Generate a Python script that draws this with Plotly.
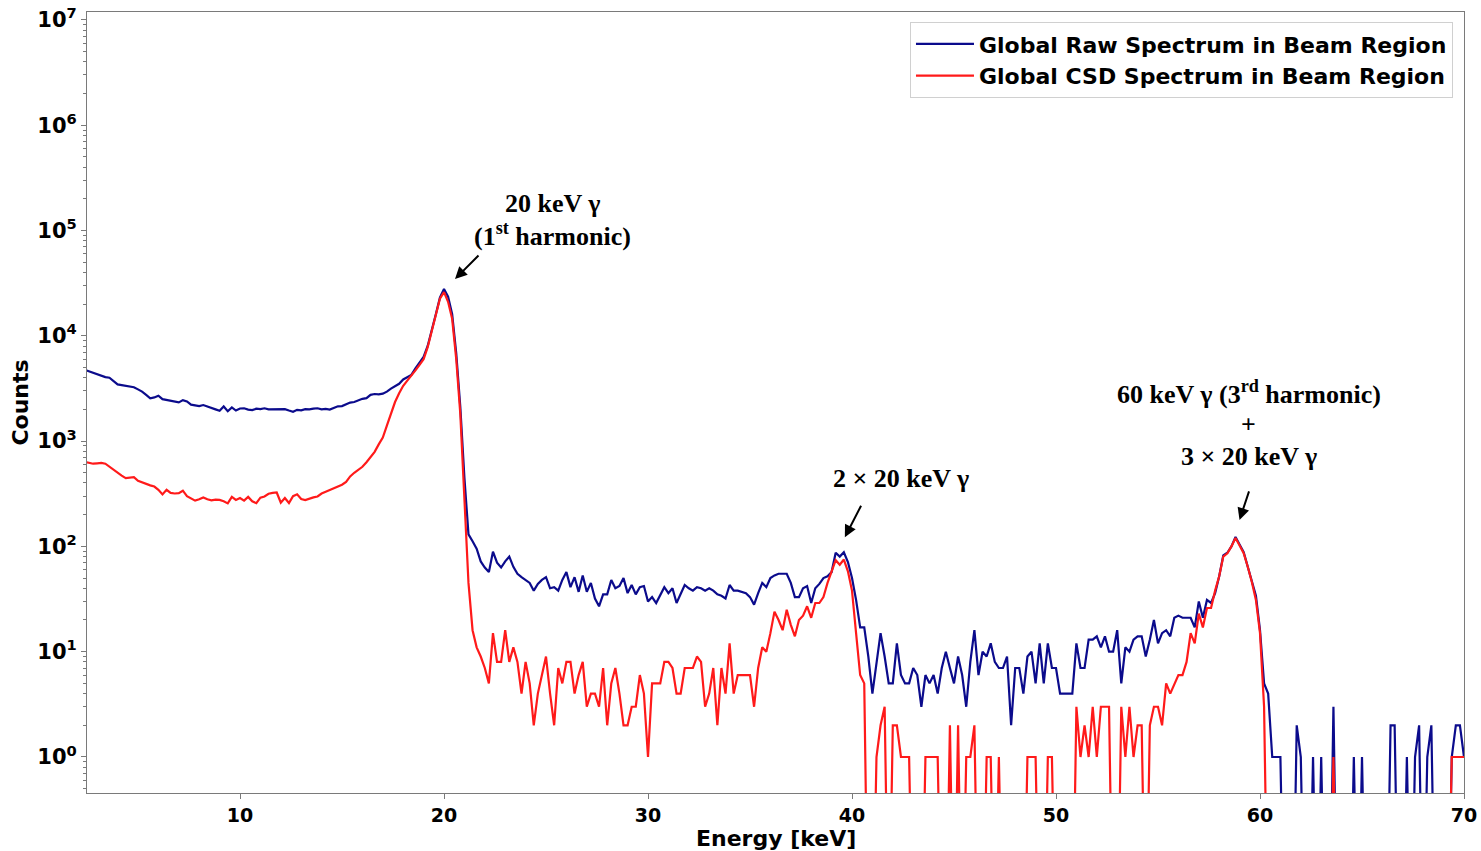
import numpy as np
import plotly.graph_objects as go

# Energy bin centres [keV], 0.2 keV wide bins
energies = np.round(np.arange(2.4, 70.0001, 0.2), 1)

# Global raw spectrum in the beam region (counts per bin)
raw_counts = [
    4750, 4600, 4450, 4300, 4150, 4050, 4000, 3750, 3450, 3400,   # 2.4 - 4.2
    3350, 3300, 3250, 3100, 2950, 2750, 2550, 2600, 2700, 2500,   # 4.4 - 6.2
    2450, 2420, 2380, 2330, 2450, 2380, 2220, 2180, 2150, 2200,   # 6.4 - 8.2
    2120, 2060, 2000, 1940, 2130, 1920, 2090, 1950, 2040, 2050,   # 8.4 - 10.2
    1990, 1970, 2030, 2010, 2050, 2000, 2010, 1990, 2000, 2010,   # 10.4 - 12.2
    1950, 1900, 1980, 1960, 2010, 2000, 2030, 2050, 2000, 2020,   # 12.4 - 14.2
    1990, 2060, 2140, 2150, 2230, 2320, 2350, 2450, 2520, 2560,   # 14.4 - 16.2
    2750, 2800, 2780, 2820, 2950, 3150, 3300, 3500, 3850, 4050,   # 16.4 - 18.2
    4250, 4900, 5500, 6300, 8000, 11000, 16000, 23000, 27800, 23500,  # 18.4 - 20.2
    16000, 6800, 2100, 450, 130, 112, 95, 72, 63, 57,             # 20.4 - 22.2
    89, 70, 63, 72, 80, 64, 55, 51, 48, 45,                       # 22.4 - 24.2
    38, 44, 48, 51, 40, 41, 38, 48, 57, 41,                       # 24.4 - 26.2
    51, 37, 53, 37, 45, 32, 27, 35, 35, 48,                       # 26.4 - 28.2
    40, 42, 50, 36, 43, 35, 41, 42, 30, 33,                       # 28.4 - 30.2
    29, 35, 41, 36, 40, 29, 36, 43, 40, 38,                       # 30.4 - 32.2
    41, 40, 38, 40, 38, 35, 34, 32, 43, 38,                       # 32.4 - 34.2
    38, 37, 36, 33, 28, 36, 45, 41, 50, 53,                       # 34.4 - 36.2
    55, 55, 55, 45, 33, 33, 40, 42, 29, 40,                       # 36.4 - 38.2
    44, 50, 52, 57, 87, 80, 88, 71, 50, 31,                       # 38.4 - 40.2
    17, 17, 9, 4, 8, 15, 9, 5, 5, 12,                             # 40.4 - 42.2
    6, 5, 5, 7, 6, 3, 6, 5, 6, 4,                                 # 42.4 - 44.2
    7, 10, 7, 5, 9, 6, 3, 8, 16, 6,                               # 44.4 - 46.2
    10, 9, 12, 8, 7, 7, 9, 2, 7, 7,                               # 46.4 - 48.2
    4, 9, 10, 5, 12, 5, 12, 7, 7, 4,                              # 48.4 - 50.2
    4, 4, 4, 12, 7, 7, 13, 13, 14, 11,                            # 50.4 - 52.2
    14, 10, 10, 16, 5, 11, 10, 13, 14, 14,                        # 52.4 - 54.2
    9, 13, 20, 12, 15, 16, 14, 21, 22, 21,                        # 54.4 - 56.2
    21, 21, 17, 30, 21, 31, 29, 36, 52, 82,                       # 56.4 - 58.2
    87, 100, 123, 105, 88, 64, 47, 34, 16, 5,                     # 58.4 - 60.2
    4, 1, 1, 1, 0, 0, 0, 2, 1, 0,                                 # 60.4 - 62.2
    0, 1, 0, 1, 0, 0, 3, 0, 0, 0,                                 # 62.4 - 64.2
    0, 1, 0, 1, 0, 0, 0, 0, 0, 0,                                 # 64.4 - 66.2
    2, 2, 0, 0, 1, 0, 1, 2, 0, 1,                                 # 66.4 - 68.2
    2, 0, 0, 0, 0, 1, 2, 2, 1,                                    # 68.4 - 70.0
]

# Global charge-sharing-discriminated (CSD) spectrum in the beam region
csd_counts = [
    635, 620, 610, 615, 620, 610, 570, 530, 495, 470,             # 2.4 - 4.2
    445, 450, 455, 420, 405, 390, 380, 370, 345, 312,             # 4.4 - 6.2
    345, 322, 318, 320, 338, 300, 285, 272, 280, 292,             # 6.4 - 8.2
    280, 274, 278, 276, 268, 256, 295, 276, 288, 272,             # 8.4 - 10.2
    295, 268, 257, 290, 298, 316, 322, 325, 260, 288,             # 10.4 - 12.2
    258, 300, 312, 282, 275, 285, 292, 298, 318, 330,             # 12.4 - 14.2
    343, 352, 365, 385, 410, 462, 500, 530, 570, 630,             # 14.4 - 16.2
    700, 790, 930, 1080, 1400, 1850, 2350, 2850, 3350, 3750,      # 16.4 - 18.2
    4150, 4700, 5300, 6000, 7800, 11000, 16500, 22500, 26000, 21000,  # 18.4 - 20.2
    14500, 6000, 1800, 320, 45, 16, 11, 9, 7, 5,                  # 20.4 - 22.2
    15, 8, 8, 16, 8, 11, 8, 4, 8, 5,                              # 22.4 - 24.2
    2, 4, 6, 9, 4, 2, 7, 5, 8, 8,                                 # 24.4 - 26.2
    4, 6, 8, 3, 4, 4, 3, 7, 2, 5,                                 # 26.4 - 28.2
    7, 4, 2, 2, 3, 3, 6, 4, 1, 5,                                 # 28.4 - 30.2
    5, 5, 8, 8, 7, 4, 4, 7, 7, 7,                                 # 30.4 - 32.2
    9, 8, 3, 4, 7, 2, 7, 4, 12, 4,                                # 32.4 - 34.2
    6, 6, 6, 6, 3, 7, 11, 10, 15, 24,                             # 34.4 - 36.2
    20, 16, 25, 18, 14, 20, 22, 27, 21, 29,                       # 36.4 - 38.2
    29, 33, 45, 57, 74, 67, 75, 58, 38, 15,                       # 38.4 - 40.2
    6, 5, 0, 0, 1, 2, 3, 0, 2, 2,                                 # 40.4 - 42.2
    1, 1, 1, 0, 0, 0, 1, 1, 1, 1,                                 # 42.4 - 44.2
    0, 0, 2, 0, 2, 0, 1, 1, 2, 0,                                 # 44.4 - 46.2
    0, 1, 1, 0, 1, 0, 0, 0, 0, 0,                                 # 46.4 - 48.2
    0, 1, 1, 1, 0, 0, 1, 1, 0, 0,                                 # 48.4 - 50.2
    0, 0, 0, 3, 1, 2, 1, 3, 1, 3,                                 # 50.4 - 52.2
    3, 3, 0, 0, 3, 1, 3, 1, 2, 2,                                 # 52.4 - 54.2
    0, 2, 3, 3, 2, 5, 4, 5, 6, 6,                                 # 54.4 - 56.2
    8, 15, 12, 23, 17, 26, 26, 38, 52, 80,                        # 56.4 - 58.2
    86, 100, 120, 102, 86, 64, 46, 31, 15, 3,                     # 58.4 - 60.2
    0, 0, 0, 0, 0, 0, 0, 0, 0, 0,                                 # 60.4 - 62.2
    0, 0, 0, 0, 0, 0, 1, 0, 0, 0,                                 # 62.4 - 64.2
    0, 0, 0, 0, 0, 0, 0, 0, 0, 0,                                 # 64.4 - 66.2
    0, 0, 0, 0, 0, 0, 0, 0, 0, 0,                                 # 66.4 - 68.2
    0, 0, 0, 0, 0, 1, 1, 1, 1,                                    # 68.4 - 70.0
]

series_names = ["Global Raw Spectrum in Beam Region", "Global CSD Spectrum in Beam Region"]
series_colors = ["#0b0b8c", "#ff1a1a"]
y_tick_exponents = [0, 1, 2, 3, 4, 5, 6, 7]
x_tick_values = [10, 20, 30, 40, 50, 60, 70]

assert len(raw_counts) == len(energies) == len(csd_counts)

raw = np.array(raw_counts, dtype=float)
csd = np.array(csd_counts, dtype=float)

# Empty bins fall below the visible log range so the line drops off the axis
EMPTY_FLOOR = 1e-2
raw_plot = np.where(raw > 0, raw, EMPTY_FLOOR)
csd_plot = np.where(csd > 0, csd, EMPTY_FLOOR)

fig = go.Figure()
fig.add_trace(go.Scatter(x=energies, y=raw_plot, mode="lines", name=series_names[0],
                         line=dict(color=series_colors[0], width=2.2)))
fig.add_trace(go.Scatter(x=energies, y=csd_plot, mode="lines", name=series_names[1],
                         line=dict(color=series_colors[1], width=2.2)))

minor_vals = [m * 10 ** e for e in range(-1, 7) for m in range(2, 10)]

bold = dict(family="DejaVu Sans", color="black", weight="bold")
frame = "#7a7a7a"

fig.update_xaxes(
    range=[2.5, 70], tickvals=x_tick_values, ticks="outside", ticklen=5,
    tickcolor=frame, showline=True, linecolor=frame, linewidth=1, mirror=True,
    showgrid=False, zeroline=False, tickfont=dict(bold, size=19),
    ticklabeloverflow="allow", automargin=False,
)
fig.update_yaxes(
    type="log", range=[-0.342, 7.075],
    tickvals=[10 ** e for e in y_tick_exponents],
    ticktext=[f"10<sup>{e}</sup>" for e in y_tick_exponents],
    ticks="outside", ticklen=5, tickcolor=frame,
    minor=dict(tickvals=minor_vals, ticks="outside", ticklen=3, tickcolor=frame),
    showline=True, linecolor=frame, linewidth=1, mirror=True,
    showgrid=False, zeroline=False, ticklabeloverflow="allow", automargin=False,
    tickfont=dict(bold, size=21),
    title=dict(text="Counts", standoff=2, font=dict(bold, size=22)),
)

# Peak locations used to anchor the annotations
i1 = int(np.argmax(raw))
sel2 = np.where((energies > 38) & (energies < 42))[0]
i2 = int(sel2[np.argmax(raw[sel2])])
sel3 = np.where((energies > 56) & (energies < 62))[0]
i3 = int(sel3[np.argmax(raw[sel3])])

ann_font = dict(family="Liberation Serif", size=26, color="black", weight="bold")


def peak_xy(i):
    return float(energies[i]), float(np.log10(raw[i]))


annotations = []
# arrows pointing at the peaks
for i, dx, dy, ax, ay in [(i1, 11, 10, 25, -25), (i2, 1, 15, 17, -33), (i3, 4, 17, 10, -30)]:
    x, y = peak_xy(i)
    annotations.append(dict(x=x, y=y, xref="x", yref="y", text="", showarrow=True,
                            arrowhead=2, arrowsize=1.2, arrowwidth=2, arrowcolor="black",
                            ax=ax, ay=ay, xshift=dx, yshift=dy))

# peak labels, one annotation per text line
labels = [
    (i1, "20 keV γ", 108, 86),
    (i1, "(1<sup>st</sup> harmonic)", 108, 55),
    (i2, "2 × 20 keV γ", 57, 74),
    (i3, "60 keV γ (3<sup>rd</sup> harmonic)", 13, 144),
    (i3, "+", 13, 112),
    (i3, "3 × 20 keV γ", 13, 80),
]
for i, txt, dx, dy in labels:
    x, y = peak_xy(i)
    annotations.append(dict(x=x, y=y, xref="x", yref="y", text=txt, showarrow=False,
                            xanchor="center", yanchor="middle", xshift=dx, yshift=dy,
                            font=ann_font, align="center"))

# x-axis title below the tick labels
annotations.append(dict(x=0.5, y=0, xref="paper", yref="paper", text="Energy [keV]",
                        showarrow=False, xanchor="center", yanchor="top", yshift=-31,
                        font=dict(bold, size=22)))

fig.update_layout(
    width=1481, height=851, autosize=False,
    margin=dict(l=87, r=17, t=12, b=58),
    paper_bgcolor="white", plot_bgcolor="white",
    showlegend=True,
    legend=dict(x=0.992, y=0.987, xanchor="right", yanchor="top",
                bgcolor="white", bordercolor="#d0d0d0", borderwidth=1,
                font=dict(bold, size=22), tracegroupgap=0, itemwidth=58),
    annotations=annotations,
)

fig.write_html("out.html", config={"responsive": False})
